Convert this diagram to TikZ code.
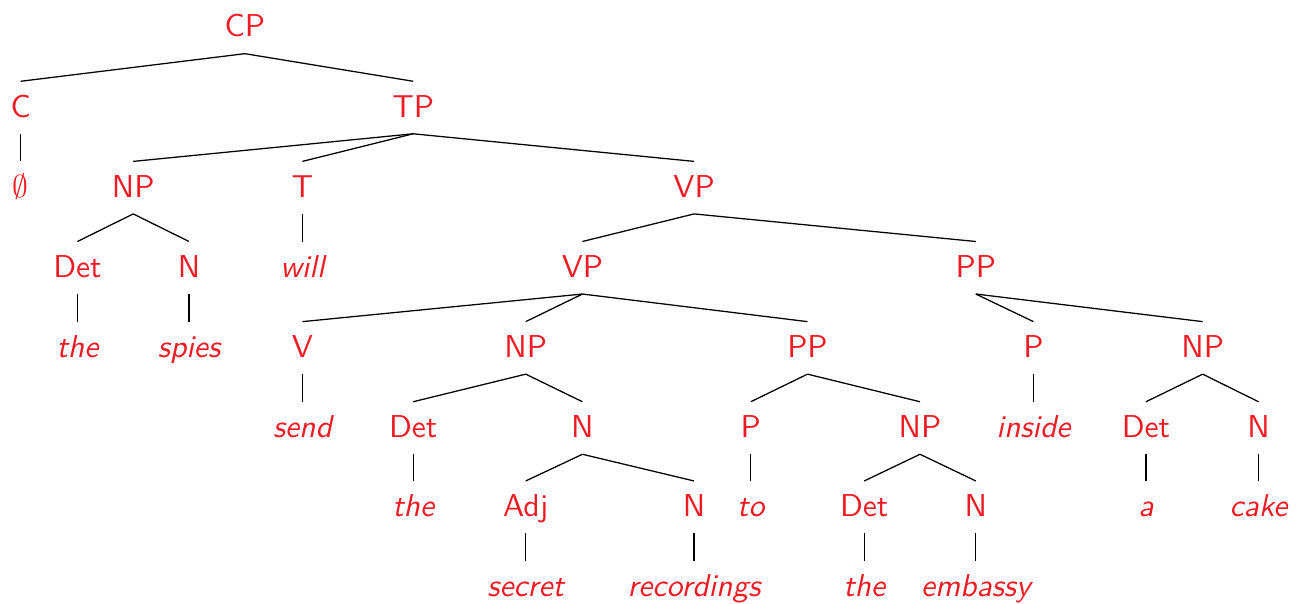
\documentclass[tikz,border=0pt]{standalone}
\usepackage{amsmath}
\usepackage{amssymb}
\usepackage{tikz}
\definecolor{catred}{RGB}{237,28,36}
\tikzset{
  cat/.style={text=catred, font=\sffamily, anchor=base, inner sep=0pt, text height=11.1pt, text depth=5.1pt},
  word/.style={cat, font=\sffamily\itshape}
}

\begin{document}
\begin{tikzpicture}
    \useasboundingbox (0, 0) rectangle (14.43, -6.70);
    % Define nodes
    \node[cat] at (2.72, -0.41) (cp) {CP};
    \node[cat] at (0.23, -1.30) (c) {C};
    \node[cat] at (4.59, -1.30) (tp) {TP};
    \node[cat] at (0.23, -2.19) (null) {$\emptyset$};
    \node[cat] at (1.48, -2.19) (subj np) {NP};
    \node[cat] at (3.36, -2.19) (t) {T};
    \node[cat] at (7.71, -2.19) (vp) {VP};
    \node[cat] at (0.86, -3.08) (subj det) {Det};
    \node[cat] at (2.10, -3.08) (subj n) {N};
    \node[word] at (3.36, -3.08) (will) {will};
    \node[cat] at (6.47, -3.08) (inner vp) {VP};
    \node[cat] at (10.84, -3.08) (outer pp) {PP};
    \node[word] at (0.86, -3.97) (subj the) {the};
    \node[word] at (2.10, -3.97) (spies) {spies};
    \node[cat] at (3.36, -3.97) (v) {V};
    \node[cat] at (5.84, -3.97) (obj np) {NP};
    \node[cat] at (8.97, -3.97) (inner pp) {PP};
    \node[cat] at (11.48, -3.97) (outer p) {P};
    \node[cat] at (13.36, -3.97) (cake np) {NP};
    \node[word] at (3.36, -4.86) (send) {send};
    \node[cat] at (4.59, -4.86) (obj det) {Det};
    \node[cat] at (6.47, -4.86) (obj n) {N};
    \node[cat] at (8.34, -4.86) (inner p) {P};
    \node[cat] at (10.22, -4.86) (emb np) {NP};
    \node[word] at (11.48, -4.86) (inside) {inside};
    \node[cat] at (12.73, -4.86) (cake det) {Det};
    \node[cat] at (13.98, -4.86) (cake n) {N};
    \node[word] at (4.59, -5.74) (obj the) {the};
    \node[cat] at (5.84, -5.74) (adj) {Adj};
    \node[cat] at (7.71, -5.74) (head n) {N};
    \node[word] at (8.34, -5.74) (to) {to};
    \node[cat] at (9.60, -5.74) (emb det) {Det};
    \node[cat] at (10.84, -5.74) (emb n) {N};
    \node[word] at (12.73, -5.74) (a) {a};
    \node[word] at (13.98, -5.74) (cake) {cake};
    \node[word] at (5.84, -6.63) (secret) {secret};
    \node[word] at (7.71, -6.63) (recordings) {recordings};
    \node[word] at (9.60, -6.63) (emb the) {the};
    \node[word] at (10.84, -6.63) (embassy) {embassy};

    % Draw branches
    \draw (cp.south) -- (c.north);
    \draw (cp.south) -- (tp.north);
    \draw (c.south) -- (null.north);
    \draw (tp.south) -- (subj np.north);
    \draw (tp.south) -- (t.north);
    \draw (tp.south) -- (vp.north);
    \draw (subj np.south) -- (subj det.north);
    \draw (subj np.south) -- (subj n.north);
    \draw (subj det.south) -- (subj the.north);
    \draw (subj n.south) -- (spies.north);
    \draw (t.south) -- (will.north);
    \draw (vp.south) -- (inner vp.north);
    \draw (vp.south) -- (outer pp.north);
    \draw (inner vp.south) -- (v.north);
    \draw (inner vp.south) -- (obj np.north);
    \draw (inner vp.south) -- (inner pp.north);
    \draw (v.south) -- (send.north);
    \draw (obj np.south) -- (obj det.north);
    \draw (obj np.south) -- (obj n.north);
    \draw (obj det.south) -- (obj the.north);
    \draw (obj n.south) -- (adj.north);
    \draw (obj n.south) -- (head n.north);
    \draw (adj.south) -- (secret.north);
    \draw (head n.south) -- (recordings.north);
    \draw (inner pp.south) -- (inner p.north);
    \draw (inner pp.south) -- (emb np.north);
    \draw (inner p.south) -- (to.north);
    \draw (emb np.south) -- (emb det.north);
    \draw (emb np.south) -- (emb n.north);
    \draw (emb det.south) -- (emb the.north);
    \draw (emb n.south) -- (embassy.north);
    \draw (outer pp.south) -- (outer p.north);
    \draw (outer pp.south) -- (cake np.north);
    \draw (outer p.south) -- (inside.north);
    \draw (cake np.south) -- (cake det.north);
    \draw (cake np.south) -- (cake n.north);
    \draw (cake det.south) -- (a.north);
    \draw (cake n.south) -- (cake.north);
\end{tikzpicture}
\end{document}
